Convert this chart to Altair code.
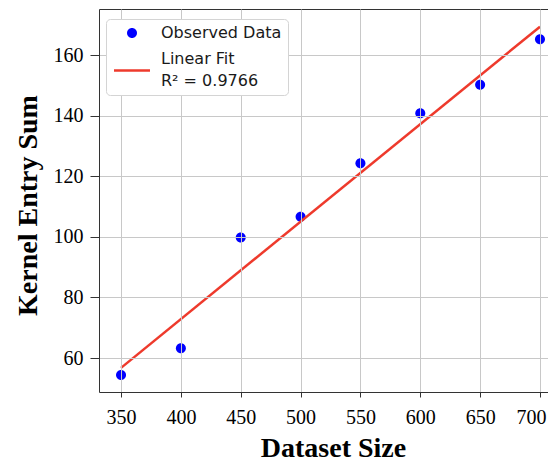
import altair as alt
import pandas as pd

dataset_size = [350, 400, 450, 500, 550, 600, 650, 700]
kernel_entry_sum = [54.4, 63.2, 99.8, 106.6, 124.3, 140.8, 150.2, 165.2]
series_names = ["Observed Data", "Linear Fit"]
fit_label_lines = ["Linear Fit", "R² = 0.9766"]
x_ticks = [350, 400, 450, 500, 550, 600, 650, 700]
y_ticks = [60, 80, 100, 120, 140, 160]

df = pd.DataFrame({
    "size": dataset_size,
    "sum": kernel_entry_sum,
    "series": ["Observed Data"] * len(dataset_size),
})

RED = "#ee3a2c"
BLUE = "#0000ff"
SERIF = "Liberation Serif"

x_scale = alt.Scale(domain=[331.6, 706.7], nice=False, zero=False)
y_scale = alt.Scale(domain=[48.8, 175.2], nice=False, zero=False)

label_expr = ("datum.label == '%s' ? ['%s', '%s'] : datum.label"
              % (fit_label_lines[0], fit_label_lines[0], fit_label_lines[1]))

legend = alt.Legend(
    title=None, orient="none", legendX=7, legendY=10,
    labelFont="DejaVu Sans", labelFontSize=16, labelColor="#1a1a1a",
    labelExpr=label_expr, labelOffset=21, labelLimit=300,
    symbolSize=144, symbolStrokeWidth=2.5, symbolOpacity=1, symbolOffset=12,
    padding=6, rowPadding=8, fillColor="white", strokeColor="#d4d4d4",
    cornerRadius=4, zindex=3,
)

# symbol paths are in units of sqrt(size)/2 = 6 px
circle_path = "M-0.833,0A0.833,0.833 0 1,0 0.833,0A0.833,0.833 0 1,0 -0.833,0Z"
stroke_path = "M-3,1.9H3"

x_axis = alt.Axis(
    values=x_ticks, title="Dataset Size", grid=True, zindex=1,
    tickSize=5, labelPadding=10, labelFlush=10, labelFlushOffset=6,
    labelFont=SERIF, labelFontSize=20, labelColor="#000000",
    titleFont=SERIF, titleFontSize=28, titleFontWeight="bold",
    titleX=234, titleY=64, titleAlign="center", titleBaseline="alphabetic",
)
y_axis = alt.Axis(
    values=y_ticks, title="Kernel Entry Sum", grid=True, zindex=1,
    tickSize=9, labelPadding=7,
    labelFont=SERIF, labelFontSize=20, labelColor="#000000",
    titleFont=SERIF, titleFontSize=28, titleFontWeight="bold",
    titleX=-63, titleY=196, titleAngle=270, titleAlign="center",
    titleBaseline="alphabetic",
)

points = alt.Chart(df).mark_point(filled=True, size=144, opacity=1).encode(
    x=alt.X("size:Q", scale=x_scale, axis=x_axis),
    y=alt.Y("sum:Q", scale=y_scale, axis=y_axis),
    fill=alt.Fill("series:N", scale=alt.Scale(domain=series_names, range=[BLUE, RED]), legend=legend),
    stroke=alt.Stroke("series:N", scale=alt.Scale(domain=series_names, range=["transparent", RED]), legend=legend),
    shape=alt.Shape("series:N", scale=alt.Scale(domain=series_names, range=[circle_path, stroke_path]), legend=legend),
)

fit = alt.Chart(df).transform_regression(
    "size", "sum", extent=[350, 700]
).mark_line(color=RED, strokeWidth=2.5).encode(
    x=alt.X("size:Q", scale=x_scale,
            axis=alt.Axis(orient="top", labels=False, ticks=False, grid=False,
                          domain=True, title=None)),
    y=alt.Y("sum:Q", scale=y_scale, axis=None),
)

chart = alt.layer(points, fit).resolve_axis(x="independent", y="independent").properties(
    width=449, height=383,
    autosize=alt.AutoSizeParams(type="none"),
    padding={"left": 91, "top": 1, "right": 0, "bottom": 70},
).configure(
    style={"guide-label": {"font": SERIF, "lineHeight": 22}},
).configure_view(stroke=None).configure_axis(
    labelFont=SERIF, titleFont=SERIF, titleColor="#000000",
    domainColor="#333333", domainWidth=1,
    tickColor="#333333", tickWidth=1, gridColor="#c8c8c8", gridWidth=1,
    gridOpacity=1,
)

chart.save("out.html", embed_options={"renderer": "svg", "actions": False})
